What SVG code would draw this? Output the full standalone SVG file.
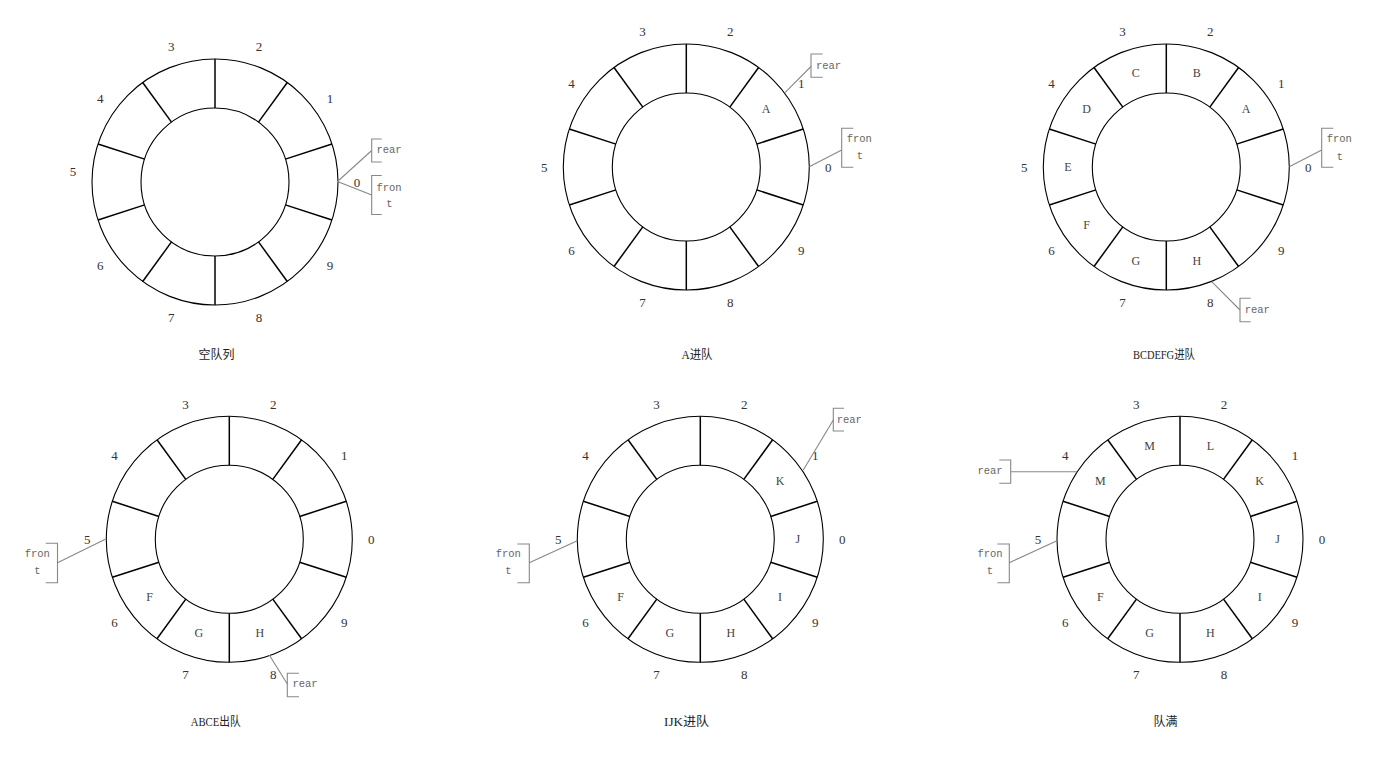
<svg xmlns="http://www.w3.org/2000/svg" xmlns:xlink="http://www.w3.org/1999/xlink" width="1379" height="760" viewBox="0 0 1379 760">
<style>
  .ring circle { fill: none; stroke: #000; stroke-width: 1.1; }
  .ring line { stroke: #000; stroke-width: 1.5; }
  .idx { font-family: "Liberation Serif", serif; font-size: 13px; fill: #333; text-anchor: middle; dominant-baseline: central; }
  .cell { font-family: "Liberation Serif", serif; font-size: 12px; fill: #444; text-anchor: middle; dominant-baseline: central; }
  .ptr { font-family: "Liberation Mono", monospace; font-size: 10.5px; fill: #666; text-anchor: middle; dominant-baseline: central; }
  .br { fill: none; stroke: #888; stroke-width: 1.1; }
  .conn line { stroke: #888; stroke-width: 1.1; }
  .cap { font-family: "Liberation Serif", "Noto Sans CJK SC", serif; font-size: 12px; fill: #222; text-anchor: middle; dominant-baseline: central; }
</style>
<defs>
  <g id="ring" class="ring">
    <circle cx="0" cy="0" r="123"/>
    <circle cx="0" cy="0" r="74"/>
    <line x1="70.38" y1="-22.87" x2="116.98" y2="-38.01"/>
    <line x1="43.50" y1="-59.87" x2="72.30" y2="-99.51"/>
    <line x1="0" y1="-74" x2="0" y2="-123"/>
    <line x1="-43.50" y1="-59.87" x2="-72.30" y2="-99.51"/>
    <line x1="-70.38" y1="-22.87" x2="-116.98" y2="-38.01"/>
    <line x1="-70.38" y1="22.87" x2="-116.98" y2="38.01"/>
    <line x1="-43.50" y1="59.87" x2="-72.30" y2="99.51"/>
    <line x1="0" y1="74" x2="0" y2="123"/>
    <line x1="43.50" y1="59.87" x2="72.30" y2="99.51"/>
    <line x1="70.38" y1="22.87" x2="116.98" y2="38.01"/>
  </g>
  <g id="idx">
    <text class="idx" x="142" y="0">0</text>
    <text class="idx" x="114.88" y="-83.47">1</text>
    <text class="idx" x="43.88" y="-135.05">2</text>
    <text class="idx" x="-43.88" y="-135.05">3</text>
    <text class="idx" x="-114.88" y="-83.47">4</text>
    <text class="idx" x="-114.88" y="83.47">6</text>
    <text class="idx" x="-43.88" y="135.05">7</text>
    <text class="idx" x="43.88" y="135.05">8</text>
    <text class="idx" x="114.88" y="83.47">9</text>
  </g>
</defs>

<rect width="1379" height="760" fill="#fff"/>

<!-- Diagram 1: empty queue -->
<g id="q1-empty" transform="translate(215,182)">
  <use xlink:href="#ring" href="#ring"/>
  <use xlink:href="#idx" href="#idx"/>
  <text class="idx" x="-142" y="-10.5">5</text>
</g>
<g id="q1-rear"><path class="br" d="M381.7,139 H371.7 V162 H381.7"/><text class="ptr" x="389" y="150">rear</text></g>
<g id="q1-front"><path class="br" d="M381.7,175.5 H371.7 V214.5 H381.7"/><text class="ptr" x="389" y="187.5">fron</text><text class="ptr" x="389.5" y="204">t</text></g>
<text class="cap" x="216.5" y="355">空队列</text>

<!-- Diagram 2: A enqueued -->
<g id="q2-a-in" transform="translate(686.3,167)">
  <use xlink:href="#ring" href="#ring"/>
  <use xlink:href="#idx" href="#idx"/>
  <text class="idx" x="-142" y="0">5</text>
  <text class="cell" x="79.69" y="-57.9">A</text>
</g>
<g id="q2-rear"><path class="br" d="M822.7,54 H811 V77.3 H822.7"/><text class="ptr" x="828.5" y="65.7">rear</text></g>
<g id="q2-front"><path class="br" d="M853.3,128.3 H841.7 V167.3 H853.3"/><text class="ptr" x="859.3" y="139.3">fron</text><text class="ptr" x="860" y="156">t</text></g>
<text class="cap" x="697" y="355" textLength="31" lengthAdjust="spacingAndGlyphs">A进队</text>

<!-- Diagram 3: BCDEFG enqueued -->
<g id="q3-bcdefg-in" transform="translate(1166.3,167)">
  <use xlink:href="#ring" href="#ring"/>
  <use xlink:href="#idx" href="#idx"/>
  <text class="idx" x="-142" y="0">5</text>
  <text class="cell" x="79.69" y="-57.9">A</text>
  <text class="cell" x="30.44" y="-93.68">B</text>
  <text class="cell" x="-30.44" y="-93.68">C</text>
  <text class="cell" x="-79.69" y="-57.9">D</text>
  <text class="cell" x="-98.5" y="0">E</text>
  <text class="cell" x="-79.69" y="57.9">F</text>
  <text class="cell" x="-30.44" y="93.68">G</text>
  <text class="cell" x="30.44" y="93.68">H</text>
</g>
<g id="q3-front"><path class="br" d="M1333.3,128.3 H1321.7 V167.3 H1333.3"/><text class="ptr" x="1339.3" y="139.3">fron</text><text class="ptr" x="1340" y="156.5">t</text></g>
<g id="q3-rear"><path class="br" d="M1250.7,298.3 H1240 V321.7 H1250.7"/><text class="ptr" x="1257.3" y="310">rear</text></g>
<text class="cap" x="1164" y="355" textLength="62" lengthAdjust="spacingAndGlyphs">BCDEFG进队</text>

<!-- Diagram 4: ABCE dequeued -->
<g id="q4-abce-out" transform="translate(229.3,539.3)">
  <use xlink:href="#ring" href="#ring"/>
  <use xlink:href="#idx" href="#idx"/>
  <text class="idx" x="-142" y="0">5</text>
  <text class="cell" x="-79.69" y="57.9">F</text>
  <text class="cell" x="-30.44" y="93.68">G</text>
  <text class="cell" x="30.44" y="93.68">H</text>
</g>
<g id="q4-front"><path class="br" d="M45.7,543.3 H57.5 V582.7 H45.7"/><text class="ptr" x="37.3" y="554">fron</text><text class="ptr" x="37.3" y="571">t</text></g>
<g id="q4-rear"><path class="br" d="M299,673.3 H287.3 V696.7 H299"/><text class="ptr" x="305" y="684.3">rear</text></g>
<text class="cap" x="215.7" y="721.5" textLength="50" lengthAdjust="spacingAndGlyphs">ABCE出队</text>

<!-- Diagram 5: IJK enqueued -->
<g id="q5-ijk-in" transform="translate(700.3,539.3)">
  <use xlink:href="#ring" href="#ring"/>
  <use xlink:href="#idx" href="#idx"/>
  <text class="idx" x="-142" y="0">5</text>
  <text class="cell" x="-79.69" y="57.9">F</text>
  <text class="cell" x="-30.44" y="93.68">G</text>
  <text class="cell" x="30.44" y="93.68">H</text>
  <text class="cell" x="79.69" y="57.9">I</text>
  <text class="cell" x="97.5" y="0">J</text>
  <text class="cell" x="79.69" y="-57.9">K</text>
</g>
<g id="q5-rear"><path class="br" d="M844,408.3 H833.3 V431 H844"/><text class="ptr" x="849.3" y="419.5">rear</text></g>
<g id="q5-front"><path class="br" d="M517.3,544 H529.3 V582.7 H517.3"/><text class="ptr" x="508.3" y="554.3">fron</text><text class="ptr" x="508.3" y="570.5">t</text></g>
<text class="cap" x="686.6" y="721.5" textLength="45" lengthAdjust="spacingAndGlyphs">IJK进队</text>

<!-- Diagram 6: queue full -->
<g id="q6-full" transform="translate(1180,539.3)">
  <use xlink:href="#ring" href="#ring"/>
  <use xlink:href="#idx" href="#idx"/>
  <text class="idx" x="-142" y="0">5</text>
  <text class="cell" x="-79.69" y="57.9">F</text>
  <text class="cell" x="-30.44" y="93.68">G</text>
  <text class="cell" x="30.44" y="93.68">H</text>
  <text class="cell" x="79.69" y="57.9">I</text>
  <text class="cell" x="97.5" y="0">J</text>
  <text class="cell" x="79.69" y="-57.9">K</text>
  <text class="cell" x="30.44" y="-93.68">L</text>
  <text class="cell" x="-30.44" y="-93.68">M</text>
  <text class="cell" x="-79.69" y="-57.9">M</text>
</g>
<g id="q6-rear"><path class="br" d="M999.3,460 H1010.7 V483.3 H999.3"/><text class="ptr" x="990" y="471">rear</text></g>
<g id="q6-front"><path class="br" d="M997.3,544 H1009.3 V582.7 H997.3"/><text class="ptr" x="990" y="554.3">fron</text><text class="ptr" x="990" y="571">t</text></g>
<text class="cap" x="1165.6" y="721.5">队满</text>

<!-- Connectors: pointer leader lines -->
<g id="connectors" class="conn">
  <line x1="337.5" y1="181.5" x2="371.7" y2="150.5"/>
  <line x1="337.5" y1="181.5" x2="371.7" y2="195"/>
  <line x1="785" y1="92.7" x2="811" y2="66.5"/>
  <line x1="809.3" y1="166.7" x2="841.7" y2="150"/>
  <line x1="1289.3" y1="166.7" x2="1321.7" y2="150"/>
  <line x1="1211.7" y1="281.7" x2="1240" y2="310"/>
  <line x1="105.3" y1="539.3" x2="57.5" y2="562.8"/>
  <line x1="269.3" y1="655" x2="287.3" y2="684"/>
  <line x1="803.3" y1="470" x2="833.3" y2="420"/>
  <line x1="577.3" y1="540.7" x2="529.3" y2="562.7"/>
  <line x1="1077.2" y1="471.7" x2="1010.7" y2="471.7"/>
  <line x1="1057" y1="540.7" x2="1009.3" y2="562.7"/>
</g>
</svg>
